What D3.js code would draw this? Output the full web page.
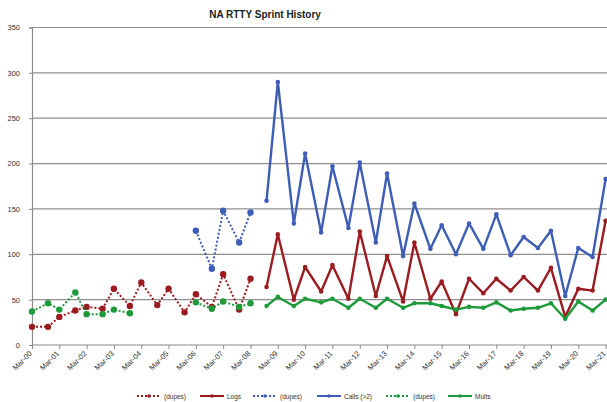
<!DOCTYPE html>
<html>
<head>
<meta charset="utf-8">
<script src="https://cdn.jsdelivr.net/npm/d3@7"></script>
<style>
body { margin: 0; background: #fff; }
text { font-family: "Liberation Sans", Arial, sans-serif; }
</style>
</head>
<body>
<svg></svg>
<script>
var width = 607;
var height = 402;
var margins = {left: 32, top: 27.5, right: 1.5, bottom: 57};

// sprint dates (spring + fall), Mar-00 .. Mar-21
var dates = [
    "2000-03-01","2000-10-01","2001-03-01","2001-10-01","2002-03-01","2002-10-01",
    "2003-03-01","2003-10-01","2004-03-01","2004-10-01","2005-03-01","2005-10-01",
    "2006-03-01","2006-10-01","2007-03-01","2007-10-01","2008-03-01","2008-10-01",
    "2009-03-01","2009-10-01","2010-03-01","2010-10-01","2011-03-01","2011-10-01",
    "2012-03-01","2012-10-01","2013-03-01","2013-10-01","2014-03-01","2014-10-01",
    "2015-03-01","2015-09-08","2016-03-01","2016-09-08","2017-03-01","2017-09-08",
    "2018-03-01","2018-09-08","2019-03-01","2019-09-08","2020-03-01","2020-09-08",
    "2021-03-01"
];

var logsDupes = [20,20,31,38,42,40,62,43,69,44,62,36,56,42,78,39,73,
    null,null,null,null,null,null,null,null,null,null,null,null,null,
    null,null,null,null,null,null,null,null,null,null,null,null,null];
var logs = [null,null,null,null,null,null,null,null,null,null,null,null,null,null,null,null,null,
    64,122,50,86,59,88,51,125,54,98,48,113,51,70,34,73,57,73,60,75,60,85,31,62,60,137];
var callsDupes = [null,null,null,null,null,null,null,null,null,null,null,null,
    126,84,148,113,146,
    null,null,null,null,null,null,null,null,null,null,null,null,null,
    null,null,null,null,null,null,null,null,null,null,null,null,null];
var calls = [null,null,null,null,null,null,null,null,null,null,null,null,null,null,null,null,null,
    159,290,134,211,124,197,129,201,113,189,98,156,106,132,100,134,106,144,99,119,107,126,54,107,97,183];
var multsDupes = [37,46,39,58,34,34,39,35,null,null,null,null,47,40,48,42,46,
    null,null,null,null,null,null,null,null,null,null,null,null,null,
    null,null,null,null,null,null,null,null,null,null,null,null,null];
var mults = [null,null,null,null,null,null,null,null,null,null,null,null,null,null,null,null,null,
    43,53,43,51,47,51,41,51,41,51,41,46,46,43,39,42,41,47,38,40,41,46,29,48,38,50];

var yTicks = [0,50,100,150,200,250,300,350];
var xTickDates = ["2000-03-01","2001-03-01","2002-03-01","2003-03-01","2004-03-01","2005-03-01",
    "2006-03-01","2007-03-01","2008-03-01","2009-03-01","2010-03-01","2011-03-01","2012-03-01",
    "2013-03-01","2014-03-01","2015-03-01","2016-03-01","2017-03-01","2018-03-01","2019-03-01",
    "2020-03-01","2021-03-01"];

var red = "#9b1c20", blue = "#3e5db6", green = "#1f9a3b";

var series = [
    {name:"(dupes)", values:logsDupes, color:red, dashed:true},
    {name:"Logs", values:logs, color:red, dashed:false},
    {name:"(dupes)", values:callsDupes, color:blue, dashed:true},
    {name:"Calls (>2)", values:calls, color:blue, dashed:false},
    {name:"(dupes)", values:multsDupes, color:green, dashed:true},
    {name:"Mults", values:mults, color:green, dashed:false}
];

var parse = d3.utcParse("%Y-%m-%d");
var when = dates.map(parse);

var svg = d3.select("svg")
            .attr("width", width)
            .attr("height", height);

var xscale = d3.scaleUtc()
               .domain([parse("2000-03-01"), parse("2021-03-01")])
               .range([margins.left, 605.6]);

var yscale = d3.scaleLinear()
               .domain([0,350])
               .range([height-margins.bottom, margins.top]);

// title
svg.append("text")
    .attr("x", 265)
    .attr("y", 18)
    .attr("text-anchor", "middle")
    .style("font-size", "10px")
    .style("font-weight", "bold")
    .style("fill", "#222")
    .text("NA RTTY Sprint History");

// gridlines
svg.append("g").selectAll("line")
    .data(yTicks.slice(1))
    .enter().append("line")
    .attr("x1", margins.left)
    .attr("x2", width-margins.right+2)
    .attr("y1", function(d){ return yscale(d); })
    .attr("y2", function(d){ return yscale(d); })
    .attr("stroke", "#8f8f8f")
    .attr("stroke-width", 1.2);

// y axis
var yaxis = d3.axisLeft(yscale)
              .tickValues(yTicks)
              .tickSize(3)
              .tickPadding(9);

var gy = svg.append("g")
    .attr("transform", "translate("+margins.left+",0)")
    .call(yaxis);
gy.select(".domain").attr("stroke", "#8a8a8a").attr("stroke-width", 1.2);
gy.selectAll(".tick line").attr("stroke", "#8a8a8a");
gy.selectAll("text")
    .style("font-size", "7.5px")
    .style("fill", "#333")
    .attr("text-anchor", "end");

// x axis
var xaxis = d3.axisBottom(xscale)
              .tickValues(xTickDates.map(parse))
              .tickSize(4)
              .tickSizeOuter(0)
              .tickFormat(d3.utcFormat("%b-%y"));

var gx = svg.append("g")
    .attr("transform", "translate(0,"+(height-margins.bottom)+")")
    .call(xaxis);
gx.select(".domain")
    .attr("d", "M"+margins.left+",0H"+(width+2))
    .attr("stroke", "#8a8a8a").attr("stroke-width", 1.2);
gx.selectAll(".tick line").attr("stroke", "#8a8a8a");
gx.selectAll("text")
    .style("font-size", "7.5px")
    .style("fill", "#333")
    .attr("text-anchor", "end")
    .attr("dy", null)
    .attr("y", 0)
    .attr("transform", "translate(0,9) rotate(-45)");

// series lines + markers (gaps where a value is missing)
series.forEach(function(s){
    var pts = s.values.map(function(v,i){ return {date: when[i], v: v}; });
    var line = d3.line()
                 .defined(function(d){ return d.v != null; })
                 .x(function(d){ return xscale(d.date); })
                 .y(function(d){ return yscale(d.v); });
    var g = svg.append("g");
    g.append("path")
        .datum(pts)
        .attr("d", line)
        .attr("fill", "none")
        .attr("stroke", s.color)
        .attr("stroke-width", s.dashed ? 2 : 2.4)
        .attr("stroke-dasharray", s.dashed ? "2,2" : null)
        .attr("stroke-linejoin", "round");
    g.selectAll("circle")
        .data(pts.filter(function(d){ return d.v != null; }))
        .enter().append("circle")
        .attr("cx", function(d){ return xscale(d.date); })
        .attr("cy", function(d){ return yscale(d.v); })
        .attr("r", s.dashed ? 3.2 : 2.3)
        .attr("fill", s.color);
});

// legend
var legendX = [137, 200, 253, 317, 386, 448];
var legend = svg.append("g").attr("transform", "translate(0,396)");
series.forEach(function(s,i){
    var lg = legend.append("g").attr("transform", "translate("+legendX[i]+",0)");
    lg.append("line")
        .attr("x1", 0).attr("x2", 24)
        .attr("stroke", s.color)
        .attr("stroke-width", 2)
        .attr("stroke-dasharray", s.dashed ? "2,2" : null);
    lg.append("circle").attr("cx", 12).attr("r", 1.8).attr("fill", s.color);
    lg.append("text")
        .attr("x", 27)
        .attr("y", 2.5)
        .style("font-size", "6.5px")
        .style("fill", "#333")
        .text(s.name);
});
</script>
</body>
</html>
